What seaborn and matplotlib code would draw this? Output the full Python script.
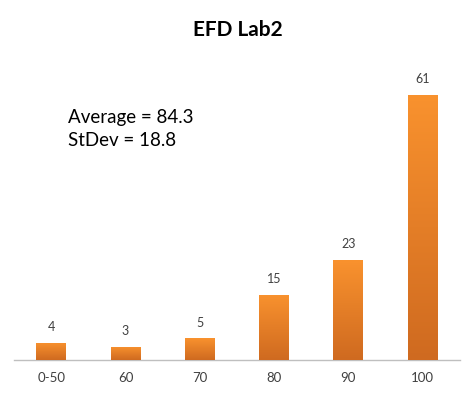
import matplotlib
matplotlib.use("Agg")
import matplotlib.pyplot as plt
import seaborn as sns
import numpy as np
import pandas as pd
from matplotlib.colors import LinearSegmentedColormap

categories = ["0-50", "60", "70", "80", "90", "100"]
counts = [4, 3, 5, 15, 23, 61]
title = "EFD Lab2"
note = "Average = 84.3\nStDev = 18.8"

sns.set_theme(style="white")
plt.rcParams['font.family'] = ['Lato', 'DejaVu Sans']

df = pd.DataFrame({"cat": categories, "n": counts})
fig = plt.figure(figsize=(4.75, 3.94), dpi=100)
ax = fig.add_axes([0.0295, 0.0863, 0.9385, 0.772])
sns.barplot(data=df, x="cat", y="n", ax=ax, color="#F18A2E", width=0.4,
            saturation=1, edgecolor="none")
ax.set_xlim(-0.5, 5.5)
ax.set_ylim(0, 70)

cmap = LinearSegmentedColormap.from_list("g", ["#CF6A20", "#F9922E"])
grad = np.linspace(0, 1, 256).reshape(-1, 1)
for p in list(ax.patches):
    x0, y0 = p.get_x(), p.get_y()
    w, h = p.get_width(), p.get_height()
    im = ax.imshow(grad, cmap=cmap, origin="lower", aspect="auto",
                   extent=[x0, x0 + w, y0, y0 + h], zorder=3)
    im.set_clip_path(p)
    ax.text(x0 + w / 2, h + 2.2, str(int(round(h))), ha="center", va="bottom",
            fontsize=9, color="#404040", zorder=4)
ax.set_xlim(-0.5, 5.5)
ax.set_ylim(0, 70)

for s in ["top", "right", "left"]:
    ax.spines[s].set_visible(False)
ax.spines["bottom"].set_color("#BFBFBF")
ax.spines["bottom"].set_linewidth(1)
ax.set_yticks([])
ax.set_xlabel("")
ax.set_ylabel("")
ax.tick_params(axis="x", length=0, pad=9, labelsize=9.5, labelcolor="#404040")

fig.text(0.5, 0.925, title, ha="center", va="center", fontsize=15,
         fontweight="bold", color="black")
fig.text(0.143, 0.672, note, ha="left", va="center", fontsize=13.5,
         color="black", linespacing=1.4)

fig.savefig("out.png", dpi=100)
